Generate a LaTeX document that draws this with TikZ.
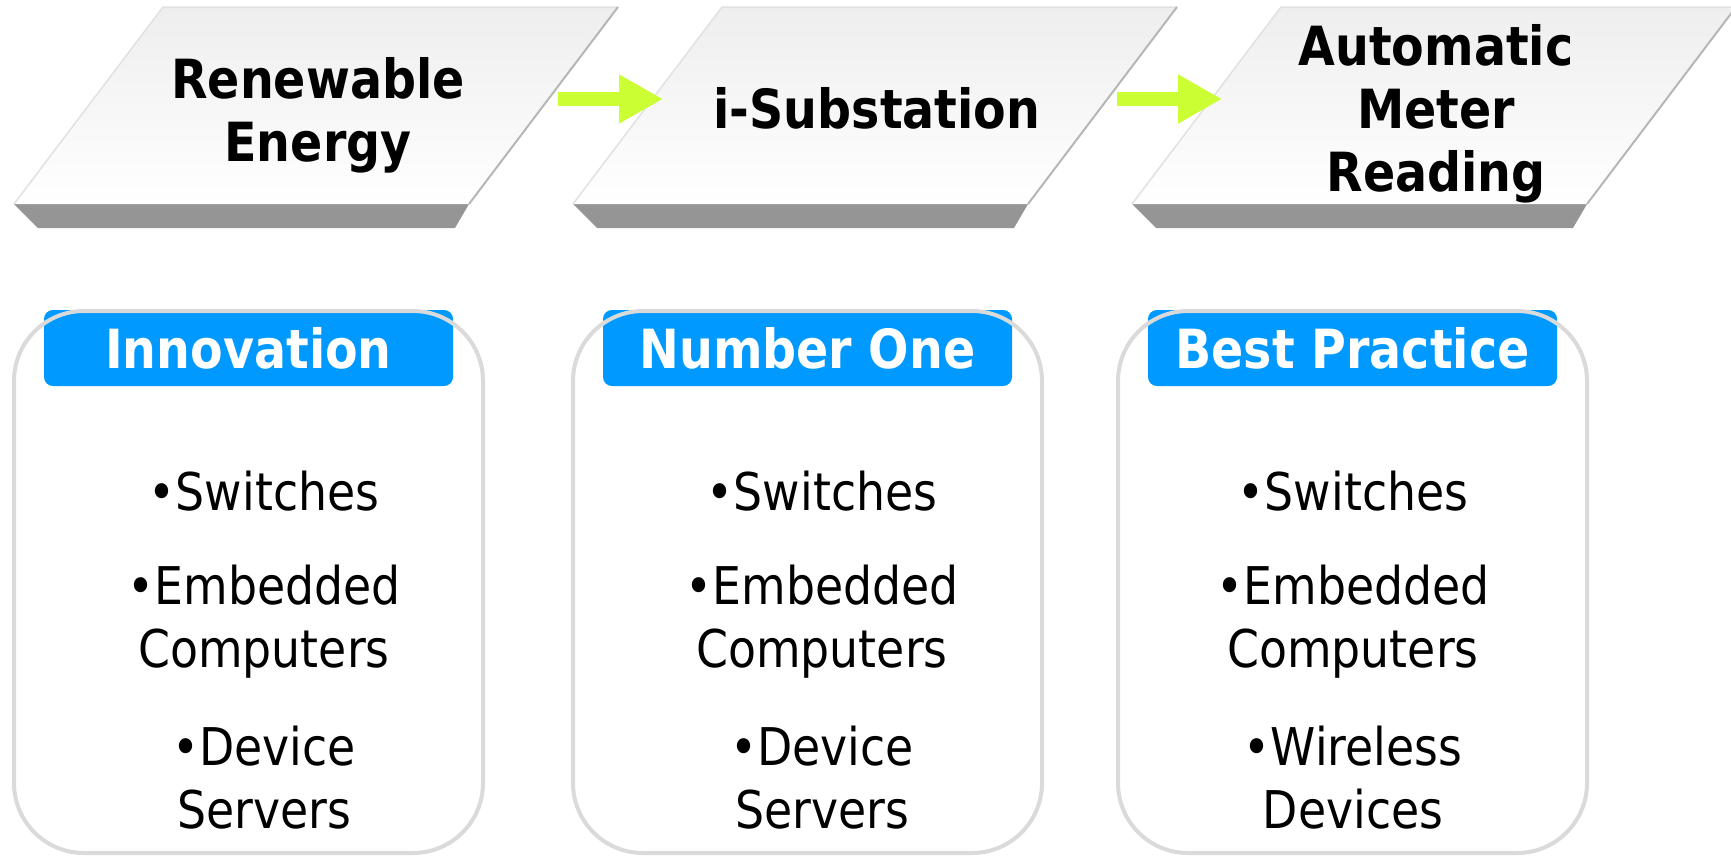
\documentclass[tikz,border=0pt]{standalone}
\usepackage{fontspec}
\setmainfont{DejaVu Sans}[FakeStretch=0.88]
\usetikzlibrary{arrows.meta}

\definecolor{slabtop}{RGB}{238,238,238}
\definecolor{slabedge}{RGB}{225,225,225}
\definecolor{slabrim}{RGB}{182,182,182}
\definecolor{slabside}{RGB}{149,149,149}
\definecolor{flowgreen}{RGB}{204,255,51}
\definecolor{tagblue}{RGB}{0,153,255}
\definecolor{cardline}{RGB}{218,218,218}

% base anchor of a multi-line node sits on its last line
\tikzset{
  slabtitle/.style={font=\bfseries\fontsize{54}{63}\selectfont, align=center, anchor=base, inner sep=0pt},
  tag/.style={fill=tagblue, rounded corners=9pt, minimum width=409pt, minimum height=76pt,
              inner sep=0pt, text=white, font=\bfseries\fontsize{54}{63}\selectfont},
  card/.style={draw=cardline, line width=4pt, rounded corners=70pt,
               minimum width=469pt, minimum height=542pt, inner sep=0pt},
  item/.style={font=\fontsize{52}{63}\selectfont, align=center, anchor=base, inner sep=0pt},
  flow/.style={draw=flowgreen, line width=14pt,
               -{Triangle[width=46pt,length=44pt,fill=flowgreen]}}
}

\begin{document}
\begin{tikzpicture}[x=1pt,y=-1pt]
\useasboundingbox (0,0) rectangle (1731,855);

% three slanted slabs: shaded top face with a dark bottom rim
\foreach \dx in {0,559,1118}{
  \fill[slabside] (14+\dx,204) -- (469+\dx,204) -- (455+\dx,228) -- (38+\dx,228) -- cycle;
  \shade[top color=slabtop, bottom color=white]
    (163+\dx,7) -- (618+\dx,7) -- (469+\dx,204) -- (14+\dx,204) -- cycle;
  \draw[slabedge, line width=1.5pt] (14+\dx,204) -- (163+\dx,7) -- (618+\dx,7);
  \draw[slabrim, line width=2pt] (618+\dx,7) -- (469+\dx,204);
}

\node[slabtitle] (renew) at (318,161) {Renewable\\Energy};
\node[slabtitle] (subst) at (877,128) {i-Substation};
\node[slabtitle] (amr)   at (1436,191) {Automatic\\Meter\\Reading};

% flow arrows between the slabs
\coordinate (f1s) at (558,99);
\coordinate (f1e) at (663,99);
\coordinate (f2s) at (1117,99);
\coordinate (f2e) at (1222,99);
\draw[flow] (f1s) -- (f1e);
\draw[flow] (f2s) -- (f2e);

% headline tags
\node[tag] (tag1) at (248.5,348) {Innovation};
\node[tag] (tag2) at (807.5,348) {Number One};
\node[tag] (tag3) at (1352.5,348) {Best Practice};

% rounded cards, outline drawn over the tags
\node[card] (card1) at (248.5,582) {};
\node[card] (card2) at (807.5,582) {};
\node[card] (card3) at (1352.5,582) {};

% card contents
\node[item] (c1a) at (264,510) {•Switches};
\node[item] (c1b) at (264,667) {•Embedded\\Computers};
\node[item] (c1c) at (264,828) {•Device\\Servers};

\node[item] (c2a) at (822,510) {•Switches};
\node[item] (c2b) at (822,667) {•Embedded\\Computers};
\node[item] (c2c) at (822,828) {•Device\\Servers};

\node[item] (c3a) at (1353,510) {•Switches};
\node[item] (c3b) at (1353,667) {•Embedded\\Computers};
\node[item] (c3c) at (1353,828) {•Wireless\\Devices};
\end{tikzpicture}
\end{document}
